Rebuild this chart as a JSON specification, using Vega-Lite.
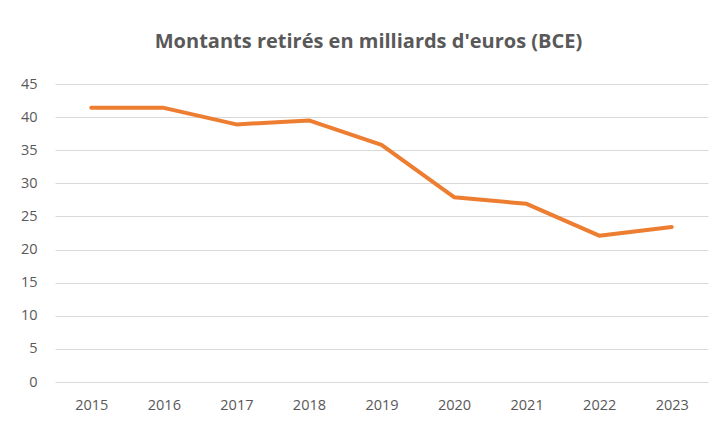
{
  "$schema": "https://vega.github.io/schema/vega-lite/v6.json",
  "width": 653,
  "height": 298,
  "autosize": {"type": "none"},
  "padding": {"left": 55, "top": 84, "right": 10, "bottom": 42},
  "background": "white",
  "title": {
    "text": "Montants retirés en milliards d'euros (BCE)",
    "font": "Open Sans",
    "fontSize": 20,
    "fontWeight": "bold",
    "color": "#595959",
    "anchor": "middle",
    "dx": -13,
    "offset": 24
  },
  "data": {
    "values": [
      {"annee": "2015", "montant": 41.4},
      {"annee": "2016", "montant": 41.4},
      {"annee": "2017", "montant": 38.9},
      {"annee": "2018", "montant": 39.5},
      {"annee": "2019", "montant": 35.8},
      {"annee": "2020", "montant": 27.9},
      {"annee": "2021", "montant": 26.9},
      {"annee": "2022", "montant": 22.1},
      {"annee": "2023", "montant": 23.4}
    ]
  },
  "mark": {"type": "line", "color": "#ED7D31", "strokeWidth": 4, "strokeCap": "round", "strokeJoin": "round"},
  "encoding": {
    "x": {
      "field": "annee",
      "type": "ordinal",
      "scale": {"type": "point", "padding": 0.5},
      "axis": {"title": null, "labelAngle": 0, "ticks": false, "domain": false, "grid": false, "labelPadding": 16, "labelFont": "Open Sans", "labelFontSize": 14.5, "labelColor": "#595959"}
    },
    "y": {
      "field": "montant",
      "type": "quantitative",
      "scale": {"domain": [0, 45], "nice": false},
      "axis": {"title": null, "values": [0, 5, 10, 15, 20, 25, 30, 35, 40, 45], "ticks": false, "domain": false, "grid": true, "gridColor": "#d9d9d9", "gridWidth": 1, "labelPadding": 18, "labelFont": "Open Sans", "labelFontSize": 14.5, "labelColor": "#595959"}
    }
  },
  "config": {"view": {"stroke": null}}
}
